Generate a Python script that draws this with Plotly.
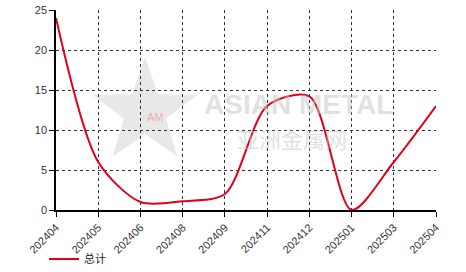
import math
import plotly.graph_objects as go

months = ["202404", "202405", "202406", "202408", "202409", "202411", "202412", "202501", "202503", "202504"]
total = [24.0, 6.0, 1.0, 1.1, 2.0, 13.0, 14.2, 0.0, 6.0, 13.0]
series_name = "总计"
y_ticks = [0, 5, 10, 15, 20, 25]

W, H = 466, 272
ML, MR, MT, MB = 56, 30, 10, 62
PW, PH = W - ML - MR, H - MT - MB

def px(x):
    return (x - ML) / PW

def py(y):
    return (H - MB - y) / PH

fig = go.Figure()
fig.add_trace(go.Scatter(
    x=months, y=total, mode="lines", name=series_name,
    line=dict(color="#e0001b", width=2, shape="spline", smoothing=0.8),
))

# watermark star (decorative)
cx, cy, ro, ri = 145, 112, 55, 22
pts = []
for i in range(10):
    r = ro if i % 2 == 0 else ri
    a = -math.pi / 2 + i * math.pi / 5
    pts.append((px(cx + r * math.cos(a)), py(cy + r * math.sin(a))))
path = "M " + " L ".join(f"{x:.4f},{y:.4f}" for x, y in pts) + " Z"
fig.add_shape(type="path", path=path, xref="paper", yref="paper",
              fillcolor="rgba(205,205,205,0.45)", line=dict(width=0), layer="below")
fig.add_annotation(text="AM", xref="paper", yref="paper", x=px(cx), y=py(cy + 5),
                   showarrow=False, font=dict(size=11, color="rgba(240,130,130,0.6)"))
fig.add_annotation(text="ASIAN METAL", xref="paper", yref="paper", x=px(298), y=py(104),
                   showarrow=False, font=dict(size=28, color="rgba(195,195,195,0.5)",
                   family="Liberation Sans, Arial", weight="bold"))
fig.add_annotation(text="亚洲金属网", xref="paper", yref="paper", x=px(292), y=py(138),
                   showarrow=False, font=dict(size=22, color="rgba(195,195,195,0.5)",
                   family="Noto Sans CJK SC"))

fig.update_layout(
    width=W, height=H,
    margin=dict(l=ML, r=MR, t=MT, b=MB, autoexpand=False),
    plot_bgcolor="white", paper_bgcolor="white",
    font=dict(family="Liberation Sans, Arial", size=11, color="#222"),
    showlegend=True,
    legend=dict(orientation="h", x=px(44), y=py(259), xanchor="left", yanchor="middle",
                font=dict(size=11, color="#222", family="Noto Sans CJK SC"),
                bgcolor="rgba(0,0,0,0)"),
)
fig.update_xaxes(
    type="category", range=[0, len(months) - 1], automargin=False,
    showgrid=True, gridcolor="#333", griddash="dot", gridwidth=1,
    showline=True, linecolor="black", linewidth=1.5,
    ticks="outside", ticklen=5, tickcolor="black",
    tickangle=-45, tickfont=dict(size=11, color="#333"),
    zeroline=False,
)
fig.update_yaxes(
    range=[0, 25], tickvals=y_ticks, automargin=False,
    showgrid=True, gridcolor="#333", griddash="dot", gridwidth=1,
    showline=True, linecolor="black", linewidth=1.5,
    ticks="outside", ticklen=5, tickcolor="black",
    tickfont=dict(size=11, color="#333"),
    zeroline=False,
)
fig.write_html("out.html")
